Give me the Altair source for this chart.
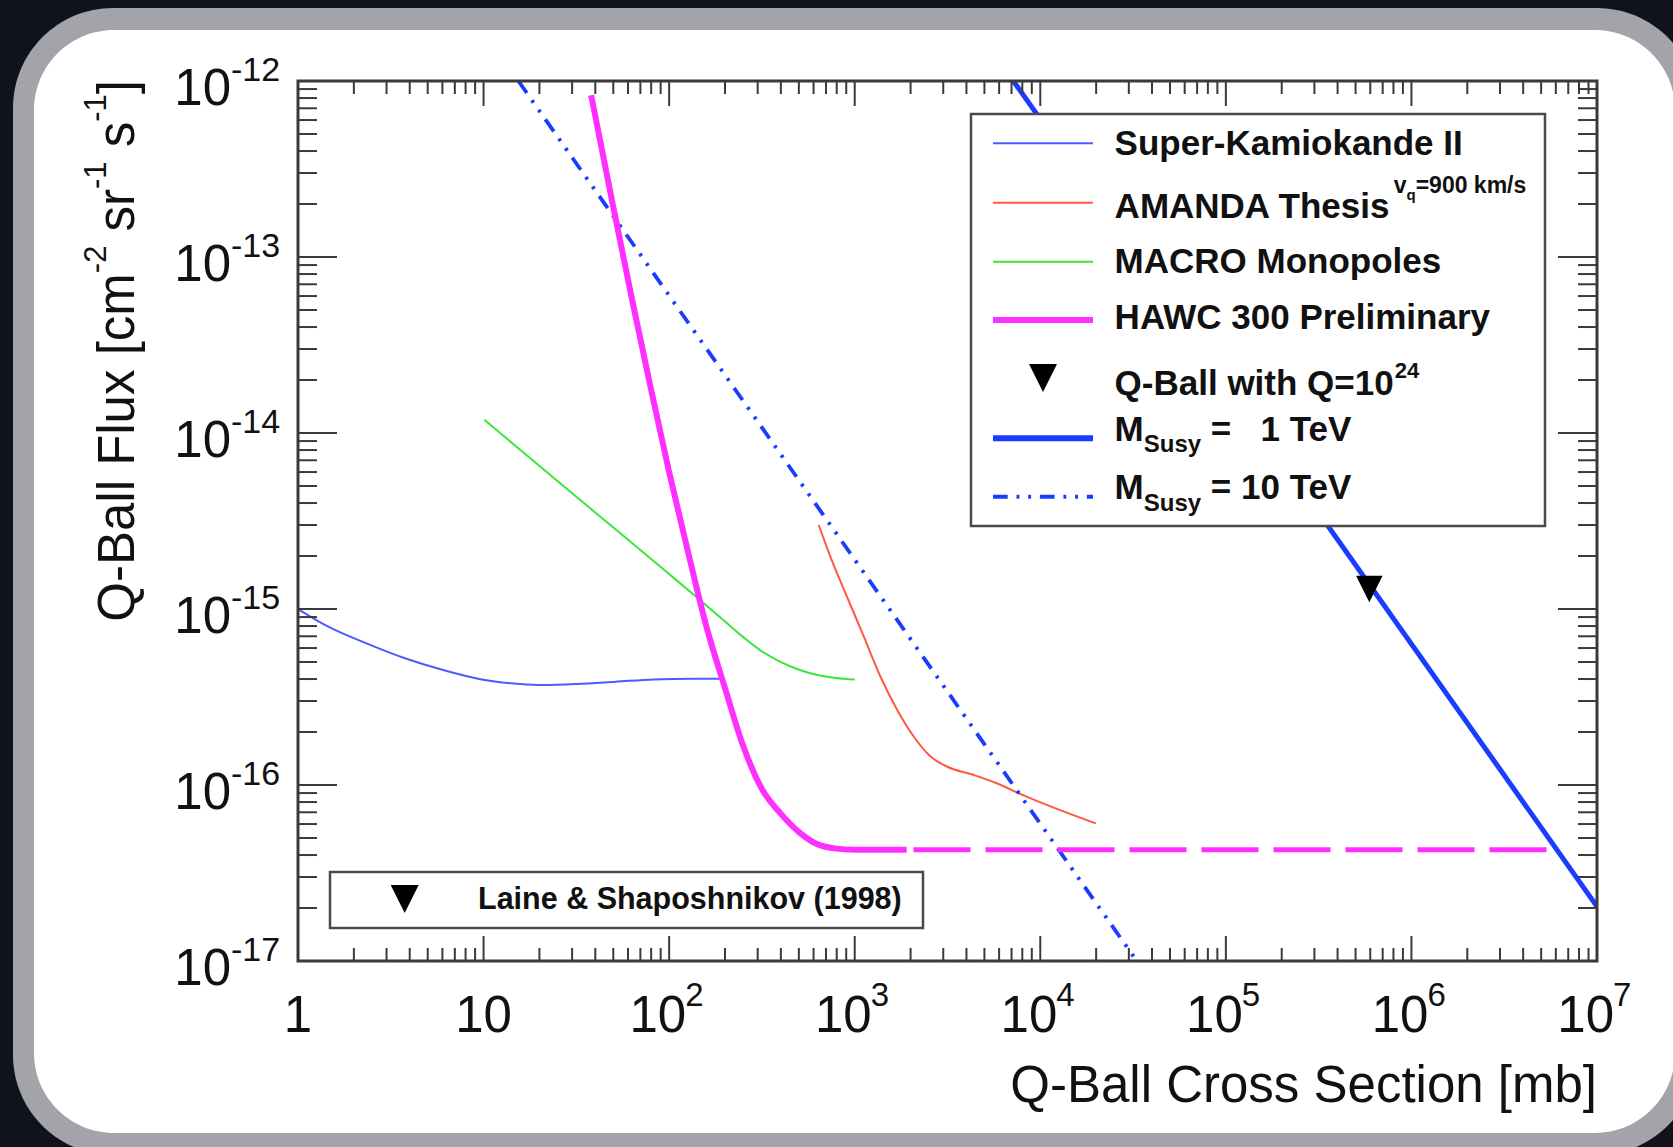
import altair as alt
import pandas as pd

# ---------------- data ----------------
# Super-Kamiokande II limit
sk_x = [1, 1.455, 2.34, 3.77, 6.05, 9.75, 15.7, 20.8, 32.0, 51.4, 82.8, 133, 195]
sk_y = [1.0e-15, 7.94e-16, 6.38e-16, 5.25e-16, 4.50e-16, 3.98e-16, 3.75e-16,
        3.70e-16, 3.75e-16, 3.86e-16, 3.98e-16, 4.02e-16, 4.02e-16]

# AMANDA thesis limit (v_q = 900 km/s)
am_x = [640, 740, 910, 1120, 1377, 1694, 2084, 2564, 3155, 4385, 5875, 7674, 10920, 19910]
am_y = [3.0e-15, 1.98e-15, 1.17e-15, 6.97e-16, 4.12e-16, 2.67e-16, 1.88e-16,
        1.45e-16, 1.27e-16, 1.14e-16, 1.02e-16, 8.97e-17, 7.69e-17, 6.05e-17]

# MACRO monopole limit
mc_x = [10.1, 15.85, 25.1, 39.8, 63.1, 100, 146.6, 199.5, 251, 316, 398, 501, 631, 794, 1000]
mc_y = [1.19e-14, 7.98e-15, 5.32e-15, 3.55e-15, 2.37e-15, 1.58e-15, 1.125e-15, 8.51e-16,
        6.92e-16, 5.75e-16, 5.01e-16, 4.52e-16, 4.22e-16, 4.06e-16, 3.98e-16]

# HAWC 300 preliminary sensitivity (solid part, then dashed extension)
hw_x = [38.0, 50.1, 63.1, 79.4, 100, 126, 158, 200, 251, 316, 398, 501, 631, 794, 1000, 1905]
hw_y = [8.3e-13, 1.9e-13, 5.75e-14, 1.82e-14, 6.0e-15, 2.14e-15, 8.1e-16, 3.55e-16,
        1.66e-16, 9.5e-17, 6.9e-17, 5.4e-17, 4.6e-17, 4.35e-17, 4.29e-17, 4.28e-17]
hw_ext_x = [2075, 5.6e6]
hw_ext_y = [4.28e-17, 4.28e-17]

# Q-ball flux for Q = 1e24 (Laine & Shaposhnikov 1998)
susy1_x = [7161, 1.0e7]
susy1_y = [1.0e-12, 2.04e-17]
susy10_x = [15.4, 33113]
susy10_y = [1.0e-12, 1.0e-17]
qball_x = [5.93e5]
qball_y = [1.3e-15]

# axis ticks
x_major = [1, 10, 1e2, 1e3, 1e4, 1e5, 1e6, 1e7]
x_minor = [k * 10 ** d for d in range(7) for k in range(2, 10)]
y_major = [1e-17, 1e-16, 1e-15, 1e-14, 1e-13, 1e-12]
y_minor = [k * 10.0 ** d for d in range(-17, -12) for k in range(2, 10)]
x_plain_vals = [1, 10]
x_plain_text = ["1", "10"]
x_pow_vals = [1e2, 1e3, 1e4, 1e5, 1e6, 1e7]
x_pow_exp = ["2", "3", "4", "5", "6", "7"]
y_exp = ["-17", "-16", "-15", "-14", "-13", "-12"]

# ---------------- layout / style ----------------
W, H = 1299, 880
FONT = "Liberation Sans"
AX = "#3a3a3a"
C_SK = "#4a5cff"
C_AM = "#ff5842"
C_MC = "#3be63b"
C_HW = "#ff30ff"
C_SUSY = "#1a3cff"
DASHDOT2 = [14.7, 8.8, 2.9, 8.8, 2.9, 8.8]
LONGDASH = [57, 15]
TRI = "M-1,-1L1,-1L0,1Z"

xs = alt.Scale(type="log", domain=[1, 1e7], nice=False)
ys = alt.Scale(type="log", domain=[1e-17, 1e-12], nice=False)

one = pd.DataFrame({"_": [0]})

# Helvetica advance widths (per 1000 em) for laying out composite strings
HELV = dict(zip(" -[]=/()&0123456789", [278, 333, 278, 278, 584, 278, 333, 333, 667] + [556] * 10))
HELV.update(dict(zip("ABCDEFGHIJKLMNOPQRSTUVWXYZ",
                     [667, 667, 722, 722, 667, 611, 778, 722, 278, 500, 667, 556, 833,
                      722, 778, 667, 778, 722, 667, 611, 722, 667, 944, 667, 667, 611])))
HELV.update(dict(zip("abcdefghijklmnopqrstuvwxyz",
                     [556, 556, 500, 556, 556, 278, 556, 556, 222, 222, 500, 222, 833,
                      556, 556, 556, 556, 333, 500, 278, 556, 500, 722, 500, 500, 500])))
HELV_B = dict(zip(" -[]=/()&0123456789", [278, 333, 333, 333, 584, 278, 333, 333, 722] + [556] * 10))
HELV_B.update(dict(zip("ABCDEFGHIJKLMNOPQRSTUVWXYZ",
                       [722, 722, 722, 722, 667, 611, 778, 722, 278, 556, 722, 611, 833,
                        722, 778, 667, 778, 722, 667, 611, 722, 667, 944, 667, 667, 611])))
HELV_B.update(dict(zip("abcdefghijklmnopqrstuvwxyz",
                       [556, 611, 556, 611, 556, 333, 611, 611, 278, 278, 556, 278, 889,
                        611, 611, 611, 611, 389, 556, 333, 611, 556, 778, 556, 556, 500])))


def tw(s, size, bold=False):
    t = HELV_B if bold else HELV
    return sum(t.get(c, 556) for c in s) * size / 1000.0


def txt(s, x, y, size, bold=False, align="left", angle=0, color="#111111"):
    kw = dict(fontSize=size, font=FONT, align=align, baseline="alphabetic",
              fontWeight="bold" if bold else "normal", color=color)
    if angle:
        kw["angle"] = angle
    return alt.Chart(one).mark_text(**kw).encode(
        x=alt.value(x), y=alt.value(y), text=alt.value(s))


def box(x1, x2, y1, y2, fill, stroke=None, sw=0, radius=0):
    kw = dict(fill=fill, cornerRadius=radius)
    if stroke:
        kw.update(stroke=stroke, strokeWidth=sw)
    else:
        kw.update(strokeWidth=0)
    return alt.Chart(one).mark_rect(**kw).encode(
        x=alt.value(x1), x2=alt.value(x2), y=alt.value(y1), y2=alt.value(y2))


def hrule(x1, x2, y, color, width, dash=None):
    kw = dict(color=color, strokeWidth=width, strokeCap="butt")
    if dash:
        kw["strokeDash"] = dash
    return alt.Chart(one).mark_rule(**kw).encode(
        x=alt.value(x1), x2=alt.value(x2), y=alt.value(y))


def curve(xv, yv, color, width, dash=None, smooth=False):
    df = pd.DataFrame({"x": xv, "y": yv, "i": range(len(xv))})
    kw = dict(color=color, strokeWidth=width, clip=True, strokeCap="butt", strokeJoin="round")
    if dash:
        kw["strokeDash"] = dash
    if smooth:
        kw["interpolate"] = "monotone"
    return alt.Chart(df).mark_line(**kw).encode(
        x=alt.X("x:Q", scale=xs, axis=None),
        y=alt.Y("y:Q", scale=ys, axis=None),
        order="i:Q")


layers = []

# rounded frame around the figure
layers.append(box(-285, 1399, -73, 1074, "#a3a4a9", radius=100))
layers.append(box(-264, 1377, -51, 1052, "#ffffff", radius=80))

# data curves
layers.append(curve(sk_x, sk_y, C_SK, 2, smooth=True))
layers.append(curve(mc_x, mc_y, C_MC, 2, smooth=True))
layers.append(curve(am_x, am_y, C_AM, 2, smooth=True))
layers.append(curve(susy10_x, susy10_y, C_SUSY, 3.8, DASHDOT2))
layers.append(curve(hw_x, hw_y, C_HW, 6, smooth=True))
layers.append(curve(hw_ext_x, hw_ext_y, C_HW, 5, LONGDASH))
layers.append(curve(susy1_x, susy1_y, C_SUSY, 5))
layers.append(
    alt.Chart(pd.DataFrame({"x": qball_x, "y": qball_y})).mark_point(
        shape=TRI, filled=True, size=700, color="#000000", opacity=1
    ).encode(x=alt.X("x:Q", scale=xs, axis=None), y=alt.Y("y:Q", scale=ys, axis=None))
)

# plot frame
layers.append(
    alt.Chart(one).mark_rect(fill=None, stroke=AX, strokeWidth=3).encode(
        x=alt.value(0), x2=alt.value(W), y=alt.value(0), y2=alt.value(H))
)


# ticks (pointing inwards, on all four sides)
def xticks(vals, length):
    d = pd.DataFrame({"v": vals})
    base = alt.Chart(d).mark_rule(color=AX, strokeWidth=2)
    return [
        base.encode(x=alt.X("v:Q", scale=xs, axis=None), y=alt.value(H), y2=alt.value(H - length)),
        base.encode(x=alt.X("v:Q", scale=xs, axis=None), y=alt.value(0), y2=alt.value(length)),
    ]


def yticks(vals, length):
    d = pd.DataFrame({"v": vals})
    base = alt.Chart(d).mark_rule(color=AX, strokeWidth=2)
    return [
        base.encode(y=alt.Y("v:Q", scale=ys, axis=None), x=alt.value(0), x2=alt.value(length)),
        base.encode(y=alt.Y("v:Q", scale=ys, axis=None), x=alt.value(W), x2=alt.value(W - length)),
    ]


layers += xticks(x_major, 25) + xticks(x_minor, 13)
layers += yticks(y_major, 39) + yticks(y_minor, 19)

# tick labels
LBL = 51
EXP = 33
layers.append(
    alt.Chart(pd.DataFrame({"v": x_plain_vals, "t": x_plain_text})).mark_text(
        fontSize=LBL, font=FONT, align="center", baseline="alphabetic", color="#111111"
    ).encode(x=alt.X("v:Q", scale=xs, axis=None), y=alt.value(H + 71), text="t:N")
)
xp = pd.DataFrame({"v": x_pow_vals, "e": x_pow_exp, "b": ["10"] * len(x_pow_vals)})
layers.append(
    alt.Chart(xp).mark_text(fontSize=LBL, font=FONT, align="right", baseline="alphabetic",
                            dx=17, color="#111111")
    .encode(x=alt.X("v:Q", scale=xs, axis=None), y=alt.value(H + 71), text="b:N")
)
layers.append(
    alt.Chart(xp).mark_text(fontSize=EXP, font=FONT, align="left", baseline="alphabetic",
                            dx=16, color="#111111")
    .encode(x=alt.X("v:Q", scale=xs, axis=None), y=alt.value(H + 45), text="e:N")
)
yp = pd.DataFrame({"v": y_major, "e": y_exp, "b": ["10"] * len(y_major)})
layers.append(
    alt.Chart(yp).mark_text(fontSize=LBL, font=FONT, align="right", baseline="alphabetic",
                            dy=24, color="#111111")
    .encode(y=alt.Y("v:Q", scale=ys, axis=None), x=alt.value(-67), text="b:N")
)
layers.append(
    alt.Chart(yp).mark_text(fontSize=EXP + 1, font=FONT, align="left", baseline="alphabetic",
                            dy=0, color="#111111")
    .encode(y=alt.Y("v:Q", scale=ys, axis=None), x=alt.value(-67), text="e:N")
)

# axis titles
layers.append(txt("Q-Ball Cross Section [mb]", W, H + 141, LBL, align="right"))

# rotated y title, composed piece by piece; a piece of None is a word space
ytitle = [("Q-Ball Flux [cm", False), ("-2", True), (None, False), ("sr", False),
          ("-1", True), (None, False), ("s", False), ("-1", True), ("]", False)]
TSZ, TSUP = 51, 31


def piece_w(s, sup):
    return tw(" " if s is None else s, TSUP if sup else TSZ)


total = sum(piece_w(s, sup) for s, sup in ytitle)
pos = -1 + total
for s, sup in ytitle:
    if s is not None:
        layers.append(txt(s, -192 if sup else -164, pos, TSUP if sup else TSZ, angle=270))
    pos -= piece_w(s, sup)

# main legend
LG = 35
SUP = 23
layers.append(box(673, 1247, 33, 445, "#ffffff", stroke="#4a4a4a", sw=2.5))
LX0, LX1, TX = 695, 795, 816.6
layers.append(hrule(LX0, LX1, 62.3, C_SK, 2))
layers.append(txt("Super-Kamiokande II", TX, 74, LG, bold=True))
layers.append(hrule(LX0, LX1, 121.7, C_AM, 2))
layers.append(txt("AMANDA Thesis", TX, 137.3, LG, bold=True))
sx = TX + tw("AMANDA Thesis", LG, True) + 3
layers.append(txt("v", sx, 112, SUP, bold=True))
layers.append(txt("q", sx + tw("v", SUP, True), 119, 15, bold=True))
layers.append(txt("=900 km/s", sx + tw("v", SUP, True) + tw("q", 15, True), 112, SUP, bold=True))
layers.append(hrule(LX0, LX1, 180.7, C_MC, 2))
layers.append(txt("MACRO Monopoles", TX, 191.7, LG, bold=True))
layers.append(hrule(LX0, LX1, 239, C_HW, 6))
layers.append(txt("HAWC 300 Preliminary", TX, 248.3, LG, bold=True))
layers.append(
    alt.Chart(one).mark_point(shape=TRI, filled=True, size=784, color="#000000", opacity=1)
    .encode(x=alt.value(745), y=alt.value(297))
)
layers.append(txt("Q-Ball with Q=10", TX, 314, LG, bold=True))
layers.append(txt("24", TX + tw("Q-Ball with Q=10", LG, True) + 1, 297, 22, bold=True))

mw = tw("M", LG, True)
eq_x = TX + mw + tw("Susy", 24, True) + tw(" ", LG, True)
layers.append(hrule(LX0, LX1, 357.3, C_SUSY, 6))
layers.append(txt("M", TX, 360, LG, bold=True))
layers.append(txt("Susy", TX + mw, 370.7, 24, bold=True))
layers.append(txt("=", eq_x, 360, LG, bold=True))
layers.append(txt("1 TeV", eq_x + tw("=   ", LG, True), 360, LG, bold=True))
layers.append(hrule(LX0, LX1, 415.7, C_SUSY, 4, DASHDOT2))
layers.append(txt("M", TX, 418.3, LG, bold=True))
layers.append(txt("Susy", TX + mw, 429.7, 24, bold=True))
layers.append(txt("=", eq_x, 418.3, LG, bold=True))
layers.append(txt("10 TeV", eq_x + tw("= ", LG, True), 418.3, LG, bold=True))

# reference box
layers.append(box(32, 625, 791, 847, "#ffffff", stroke="#4a4a4a", sw=2.5))
layers.append(
    alt.Chart(one).mark_point(shape=TRI, filled=True, size=784, color="#000000", opacity=1)
    .encode(x=alt.value(106.7), y=alt.value(818))
)
layers.append(txt("Laine & Shaposhnikov (1998)", 180, 828, 30.5, bold=True))

chart = (
    alt.layer(*layers)
    .properties(
        width=W, height=H,
        autosize=alt.AutoSizeParams(type="none"),
        padding={"left": 298, "top": 81, "right": 76, "bottom": 186},
    )
    .configure(background="#10121c")
    .configure_view(strokeWidth=0, fill=None)
)

chart.save("out.html", embed_options={"renderer": "svg", "actions": False})
